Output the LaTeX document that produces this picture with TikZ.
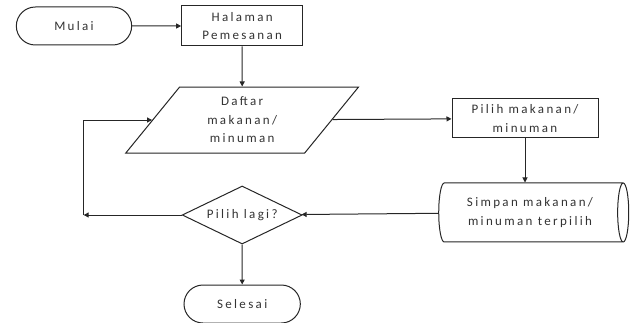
\documentclass[tikz,border=0pt]{standalone}
\usepackage{fontspec}
\setmainfont{Carlito}[LetterSpace=18]
\usepackage{tikz}
\usetikzlibrary{arrows.meta,positioning,shapes.geometric,shapes.misc}

\begin{document}
\begin{tikzpicture}[
    x=1pt, y=1pt,
    font=\fontsize{13}{18.5}\selectfont,
    color=black!85, line width=1pt,
    every node/.style={text=black!80},
    >={Triangle[length=5pt,width=5pt]},
    terminal/.style={draw, rounded rectangle, minimum width=122pt, minimum height=38pt, fill=white},
    proses/.style={draw, rectangle, align=center, inner sep=1pt, fill=white},
    data/.style={draw, trapezium, trapezium left angle=58, trapezium right angle=122, trapezium stretches=true,
      minimum width=233pt, minimum height=66pt, align=center, fill=white},
    simpan/.style={draw, cylinder, aspect=0.35, minimum height=190pt, minimum width=59pt, inner sep=1pt, align=center, fill=white},
    keputusan/.style={draw, diamond, aspect=2, inner sep=0pt, minimum width=120pt, minimum height=58pt, fill=white}
  ]
    \useasboundingbox (0,0) rectangle (630,-323);
    \node[terminal] (mulai) at (74,-26) {Mulai};
    \node[proses, minimum width=121pt, minimum height=40pt, right=49pt of mulai] (halaman) {Halaman\\Pemesanan};
    \node[data, below=40pt of halaman] (daftar) {Daftar\\makanan/\\minuman};
    \node[proses, minimum width=146pt, minimum height=39pt] (pilih) at (525,-118.5) {Pilih makanan/\\minuman};
    \node[simpan] (simpanan) at (530,-212.5) {Simpan makanan/\\minuman terpilih};
    \node[keputusan, below=32pt of daftar] (lagi) {Pilih lagi?};
    \node[terminal, minimum width=123pt, below=40pt of lagi] (selesai) {Selesai};
    \coordinate[left=98pt of lagi] (balik);
    \draw[->] (mulai) -- (halaman);
    \draw[->] (halaman) -- (daftar);
    \draw[->] (daftar) -- (pilih);
    \draw[->] (pilih) -- (pilih |- simpanan.north);
    \draw[->] (simpanan) -- (lagi);
    \draw[->] (lagi) -- (balik);
    \draw[->] (balik) |- (daftar);
    \draw[->] (lagi) -- (selesai);
  \end{tikzpicture}
\end{document}
